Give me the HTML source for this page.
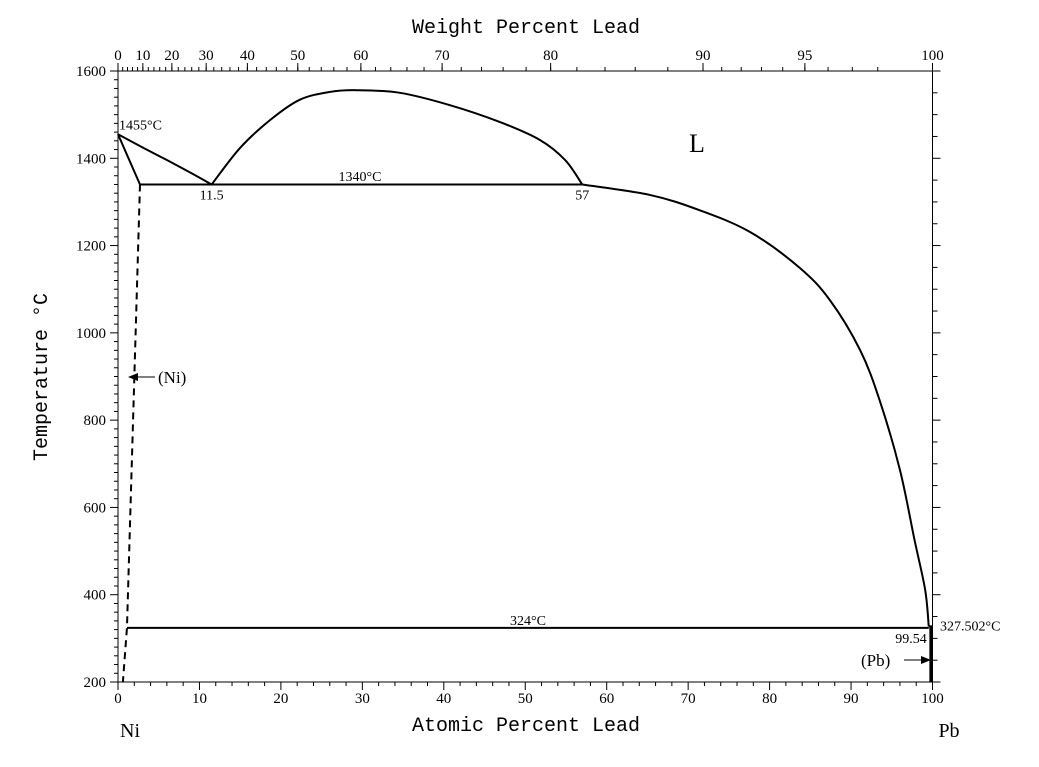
<!DOCTYPE html>
<html><head><meta charset="utf-8"><style>
body{margin:0;background:#fff}
svg{display:block;font-family:"Liberation Serif",serif}
</style></head><body>
<svg id="c" width="1039" height="767" xmlns="http://www.w3.org/2000/svg"></svg>
<script>
const xTicks=[0,10,20,30,40,50,60,70,80,90,100];
const yTicks=[200,400,600,800,1000,1200,1400,1600];
const wtTicks=[0,10,20,30,40,50,60,70,80,90,95,100];
const miscX=[11.5,15,18.7,22.3,26,29.3,34.6,40.7,46.9,51.8,54.9,57];
const miscT=[1340,1424,1488,1534,1552,1556,1550,1522,1483,1442,1396,1340];
const liqX=[57,65.3,71.4,77.6,83.7,87.4,91.1,93.5,96,97.8,99.1,99.54];
const liqT=[1340,1316,1281,1231,1149,1075,961,846,686,525,411,327.5];
const niLiqX=[0,3,6,9,11.5];
const niLiqT=[1455,1425,1396,1366,1340];
const solvX=[2.7,1.1,0.6];
const solvT=[1340,324,200];

const X0=118,X1=932.5,Y0=682,Y1=71;
const sx=v=>X0+(X1-X0)*v/100;
const sy=t=>Y0-(Y0-Y1)*(t-200)/1400;
const wt2at=w=>{if(w>=100)return 100;const a=w/207.2,b=(100-w)/58.69;return 100*a/(a+b);};
const svg=document.getElementById('c');
const NS='http://www.w3.org/2000/svg';
function el(tag,attrs,parent){const e=document.createElementNS(NS,tag);for(const k in attrs)e.setAttribute(k,attrs[k]);(parent||svg).appendChild(e);return e;}
function txt(s,x,y,size,anchor,name){const t=el('text',{x:x,y:y,'font-size':size,'text-anchor':anchor||'start'});t.textContent=s;


return t;}
function line(x1,y1,x2,y2,w,name,dash){const l=el('line',{x1:x1,y1:y1,x2:x2,y2:y2,stroke:'#000','stroke-width':w||1});if(dash)l.setAttribute('stroke-dasharray',dash);


return l;}
function smoothPath(xs,ts){const P=xs.map((x,i)=>[sx(x),sy(ts[i])]);let d='M'+P[0][0]+','+P[0][1];
for(let i=0;i<P.length-1;i++){const p0=P[i-1]||P[i],p1=P[i],p2=P[i+1],p3=P[i+2]||P[i+1];
const c1=[p1[0]+(p2[0]-p0[0])/6,p1[1]+(p2[1]-p0[1])/6],c2=[p2[0]-(p3[0]-p1[0])/6,p2[1]-(p3[1]-p1[1])/6];
d+=' C'+c1+' '+c2+' '+p2;}return d;}
function poly(xs,ts,w,name,dash,smooth){const p=el('path',{d:smooth?smoothPath(xs,ts):'M'+xs.map((x,i)=>sx(x)+','+sy(ts[i])).join(' L'),fill:'none',stroke:'#000','stroke-width':w||2,'stroke-linejoin':'round'});if(dash)p.setAttribute('stroke-dasharray',dash);


return p;}

const frame=el('rect',{x:X0,y:Y1,width:X1-X0,height:Y0-Y1,fill:'none',stroke:'#000','stroke-width':1});


for(let v=0;v<=100;v+=2){const m=v%10===0;line(sx(v),Y0,sx(v),Y0+(m?8:4),1,'x-tick');}
xTicks.forEach(v=>txt(String(v),sx(v),Y0+21,15,'middle','x-tick-label'));
for(let t=200;t<=1600;t+=20){const m=t%200===0;line(X0-(m?8:4),sy(t),X0,sy(t),1,'y-tick');}
yTicks.forEach(t=>txt(String(t),X0-12,sy(t)+5,15,'end','y-tick-label'));
for(let t=200;t<=1600;t+=50){const m=t%200===0;line(X1,sy(t),X1+(m?8:5),sy(t),1,'right-tick');}
for(let w=0;w<=98;w+=(w<80?2:(w<90?2:1))){line(sx(wt2at(w)),Y1,sx(wt2at(w)),Y1-4,1,'top-minor-tick');}
wtTicks.forEach(w=>{line(sx(wt2at(w)),Y1,sx(wt2at(w)),Y1-8,1,'top-tick');txt(String(w),sx(wt2at(w)),Y1-11,15,'middle','top-tick-label');});
txt('Weight Percent Lead',526,33,20,'middle','top-axis-title').setAttribute('font-family','Liberation Mono, monospace');
txt('Atomic Percent Lead',526,731,20,'middle','x-axis-title').setAttribute('font-family','Liberation Mono, monospace');
const yt=txt('Temperature °C',47,377,20,'middle','y-axis-title');yt.setAttribute('transform','rotate(-90 47 377)');yt.setAttribute('font-family','Liberation Mono, monospace');
txt('Ni',130,737,20,'middle','ni-label');
txt('Pb',949,737,20,'middle','pb-label');
poly(niLiqX,niLiqT,2,'ni-liquidus',null,true);
poly([0,2.7],[1455,1340],2,'ni-solidus');
poly(miscX,miscT,2,'miscibility-gap',null,true);
poly(liqX,liqT,2,'pb-side-liquidus',null,true);
poly(solvX,solvT,2,'ni-solvus','7,5');
line(sx(2.7),sy(1340),sx(57),sy(1340),2,'monotectic-line');
line(sx(1.1),sy(324),sx(99.54),sy(324),2,'eutectic-line');
line(sx(99.54),sy(327.5),sx(100),sy(327.5),2,'pb-top');
line(sx(99.8),sy(327.5),sx(99.8),sy(200),3,'pb-solvus');
txt('1455°C',sx(0)+1,sy(1455)-5,14,'start','label-1455');
txt('11.5',sx(11.5),sy(1340)+15,14,'middle','label-11-5');
txt('1340°C',360,181,14,'middle','label-1340');
txt('57',sx(57),sy(1340)+15,14,'middle','label-57');
txt('L',697,152,26,'middle','liquid-label');
txt('324°C',528,625,14,'middle','label-324');
txt('99.54',sx(99.54)-2,sy(324)+15,14,'end','label-99-54');
txt('327.502°C',940,sy(327.5)+4,14,'start','label-327');
txt('(Ni)',158,383,17,'start','ni-phase-label');
line(155,377,130,377,1,'ni-arrow-line');
const a1=el('polygon',{points:'128,377 138,373 138,381',fill:'#000'});


txt('(Pb)',861,666,17,'start','pb-phase-label');
line(904,660,928,660,1,'pb-arrow-line');
const a2=el('polygon',{points:'931,660 921,656 921,664',fill:'#000'});


</script>
</body></html>
